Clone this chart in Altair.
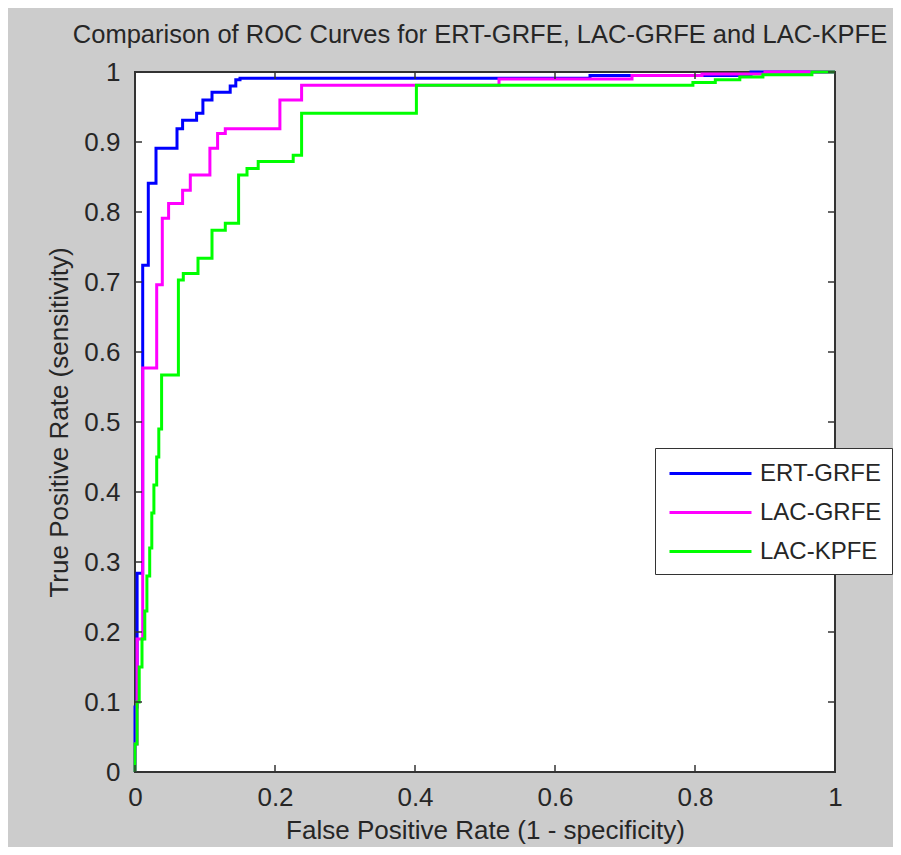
import altair as alt
import pandas as pd

title_text = "Comparison of ROC Curves for ERT-GRFE, LAC-GRFE and LAC-KPFE"
x_title = "False Positive Rate (1 - specificity)"
y_title = "True Positive Rate (sensitivity)"

series_names = ["ERT-GRFE", "LAC-GRFE", "LAC-KPFE"]
series_colors = ["#0000ff", "#ff00ff", "#00ff00"]

ert_fpr = [0, 0, 0.003, 0.003, 0.011, 0.011, 0.019, 0.019, 0.030, 0.030, 0.060, 0.060,
           0.068, 0.068, 0.088, 0.088, 0.097, 0.097, 0.110, 0.110, 0.136, 0.136, 0.144,
           0.144, 0.150, 0.150, 0.650, 0.650, 0.880, 0.880, 1.0]
ert_tpr = [0, 0.093, 0.093, 0.284, 0.284, 0.724, 0.724, 0.841, 0.841, 0.891, 0.891, 0.919,
           0.919, 0.931, 0.931, 0.941, 0.941, 0.960, 0.960, 0.971, 0.971, 0.980, 0.980,
           0.989, 0.989, 0.991, 0.991, 0.995, 0.995, 1.0, 1.0]

grfe_fpr = [0, 0, 0.003, 0.003, 0.011, 0.011, 0.031, 0.031, 0.039, 0.039, 0.048, 0.048,
            0.068, 0.068, 0.079, 0.079, 0.107, 0.107, 0.118, 0.118, 0.129, 0.129, 0.207,
            0.207, 0.238, 0.238, 0.520, 0.520, 0.710, 0.710, 0.810, 0.810, 0.900, 0.900, 1.0]
grfe_tpr = [0, 0.040, 0.040, 0.190, 0.190, 0.577, 0.577, 0.696, 0.696, 0.791, 0.791, 0.812,
            0.812, 0.831, 0.831, 0.853, 0.853, 0.891, 0.891, 0.912, 0.912, 0.919, 0.919,
            0.960, 0.960, 0.981, 0.981, 0.990, 0.990, 0.995, 0.995, 0.997, 0.997, 1.0, 1.0]

kpfe_fpr = [0, 0, 0.003, 0.003, 0.006, 0.006, 0.010, 0.010, 0.014, 0.014, 0.017, 0.017,
            0.021, 0.021, 0.024, 0.024, 0.027, 0.027, 0.031, 0.031, 0.034, 0.034, 0.038,
            0.038, 0.062, 0.062, 0.069, 0.069, 0.090, 0.090, 0.110, 0.110, 0.129, 0.129,
            0.148, 0.148, 0.160, 0.160, 0.176, 0.176, 0.226, 0.226, 0.238, 0.238, 0.402,
            0.402, 0.797, 0.797, 0.829, 0.829, 0.864, 0.864, 0.897, 0.897, 0.967, 0.967, 1.0]
kpfe_tpr = [0, 0.040, 0.040, 0.100, 0.100, 0.150, 0.150, 0.190, 0.190, 0.230, 0.230, 0.280,
            0.280, 0.320, 0.320, 0.370, 0.370, 0.410, 0.410, 0.450, 0.450, 0.490, 0.490,
            0.567, 0.567, 0.703, 0.703, 0.712, 0.712, 0.734, 0.734, 0.774, 0.774, 0.784,
            0.784, 0.853, 0.853, 0.862, 0.862, 0.872, 0.872, 0.881, 0.881, 0.941, 0.941,
            0.981, 0.981, 0.985, 0.985, 0.989, 0.989, 0.993, 0.993, 0.996, 0.996, 1.0, 1.0]

x_ticks = [0, 0.2, 0.4, 0.6, 0.8, 1]
y_ticks = [0, 0.1, 0.2, 0.3, 0.4, 0.5, 0.6, 0.7, 0.8, 0.9, 1]

rows = []
for name, fx, ty in zip(series_names, [ert_fpr, grfe_fpr, kpfe_fpr], [ert_tpr, grfe_tpr, kpfe_tpr]):
    for i, (a, b) in enumerate(zip(fx, ty)):
        rows.append({"series": name, "fpr": a, "tpr": b, "idx": i})
df = pd.DataFrame(rows)

xt = pd.DataFrame({"fpr": x_ticks})
yt = pd.DataFrame({"tpr": y_ticks})

FONT = "Liberation Sans"
TXT = "#262626"
TICK_LEN = 0.01

xscale = alt.Scale(domain=[0, 1], nice=False, zero=False)
yscale = alt.Scale(domain=[0, 1], nice=False, zero=False)

x_axis = alt.Axis(
    title=x_title, values=x_ticks, format="~g", labelPadding=33,
    labelBaseline="alphabetic", labelFlush=False, labelOverlap=False,
    titleX=350, titleY=66, titleBaseline="alphabetic", titleAlign="center")
y_axis = alt.Axis(
    title=y_title, values=y_ticks, format="~g", labelPadding=15,
    labelFlush=False, labelOverlap=False,
    titleX=-68, titleY=350, titleAngle=270, titleBaseline="alphabetic",
    titleAlign="center")

X = alt.X("fpr:Q", scale=xscale, axis=x_axis, title=x_title)
Y = alt.Y("tpr:Q", scale=yscale, axis=y_axis, title=y_title)

lines = alt.Chart(df).mark_line(strokeWidth=3, interpolate="linear").encode(
    x=X, y=Y,
    color=alt.Color("series:N", sort=series_names,
                    scale=alt.Scale(domain=series_names, range=series_colors),
                    legend=alt.Legend(title=None, orient="none", legendX=520, legendY=376,
                                      fillColor="white", strokeColor="#333333",
                                      padding=10, symbolType="M-3,0H3", symbolSize=747,
                                      symbolStrokeWidth=3, symbolOffset=30,
                                      labelFontSize=24, labelFont=FONT,
                                      labelColor=TXT, labelOffset=34, rowPadding=11)),
    order="idx:Q",
)

tick_style = dict(color="#333333", strokeWidth=1.5)
bottom_ticks = alt.Chart(xt).mark_rule(**tick_style).encode(
    x=X, y=alt.datum(0), y2=alt.datum(TICK_LEN))
top_ticks = alt.Chart(xt).mark_rule(**tick_style).encode(
    x=X, y=alt.datum(1), y2=alt.datum(1 - TICK_LEN))
left_ticks = alt.Chart(yt).mark_rule(**tick_style).encode(
    y=Y, x=alt.datum(0), x2=alt.datum(TICK_LEN))
right_ticks = alt.Chart(yt).mark_rule(**tick_style).encode(
    y=Y, x=alt.datum(1), x2=alt.datum(1 - TICK_LEN))

chart = alt.layer(lines, bottom_ticks, top_ticks, left_ticks, right_ticks).properties(
    width=700, height=700,
    title=alt.TitleParams(title_text, font=FONT, fontSize=25.5, fontWeight="normal",
                          color=TXT, anchor="middle", offset=11, dx=-5),
    autosize=alt.AutoSizeParams(type="none"),
    padding={"left": 127, "top": 64, "right": 58, "bottom": 75},
).configure(background="#cccccc").configure_view(
    fill="white", stroke="#333333", strokeWidth=2
).configure_axis(
    domain=False, ticks=False, grid=False, labelFont=FONT, labelFontSize=26,
    labelColor=TXT, titleFont=FONT, titleFontSize=26, titleFontWeight="normal",
    titleColor=TXT
)

chart.save("out.html", embed_options={"renderer": "svg", "actions": False})
